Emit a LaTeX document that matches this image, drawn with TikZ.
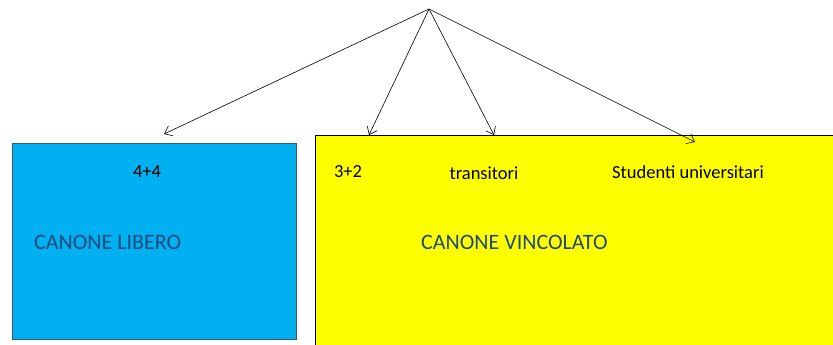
\documentclass[tikz,border=0pt]{standalone}
\usepackage{fontspec}
\setmainfont{Carlito}
\usetikzlibrary{arrows.meta}
\definecolor{boxblue}{HTML}{00B0F0}
\definecolor{boxyellow}{HTML}{FFFF00}
\definecolor{labelblue}{HTML}{1F497D}
\definecolor{blueedge}{HTML}{3A5A7A}
\begin{document}
\begin{tikzpicture}[x=1pt,y=-1pt,
  arr/.style={draw=black,line width=0.6pt,-{Straight Barb[length=7pt,width=11pt,line width=0.6pt]}},
  small/.style={font=\fontsize{18.5}{20}\selectfont,text=black,inner sep=0pt},
  big/.style={font=\fontsize{22}{24}\selectfont,text=labelblue,inner sep=0pt,anchor=west}]
\useasboundingbox (0,0) rectangle (833,345);
\path[fill=boxblue,draw=blueedge,line width=1pt] (12,143) rectangle (296,339);
\node[inner sep=0pt,minimum width=284pt,minimum height=196pt] (libero) at (154,241) {};
\path[fill=boxyellow] (315,135) rectangle (834,346);
\draw[black,line width=0.8pt] (834,135) -- (315,135) -- (315,346);
\node[inner sep=0pt] (vincolato) at (574,240) {};
\coordinate (apex) at (429,9);
\coordinate (t1) at (164,134);
\coordinate (t2) at (369,135);
\coordinate (t3) at (494,135);
\coordinate (t4) at (695,142);
\draw[arr] (apex) -- (t1);
\draw[arr] (apex) -- (t2);
\draw[arr] (apex) -- (t3);
\draw[arr] (apex) -- (t4);
\node[small] (n44) at (147,172) {4+4};
\node[small] (n32) at (348,172) {3+2};
\node[small] (ntr) at (484,173) {transitori};
\node[small] (nst) at (688,172) {Studenti universitari};
\node[big] (lib) at (34,242) {CANONE LIBERO};
\node[big] (vin) at (421,242) {CANONE VINCOLATO};
\end{tikzpicture}
\end{document}
